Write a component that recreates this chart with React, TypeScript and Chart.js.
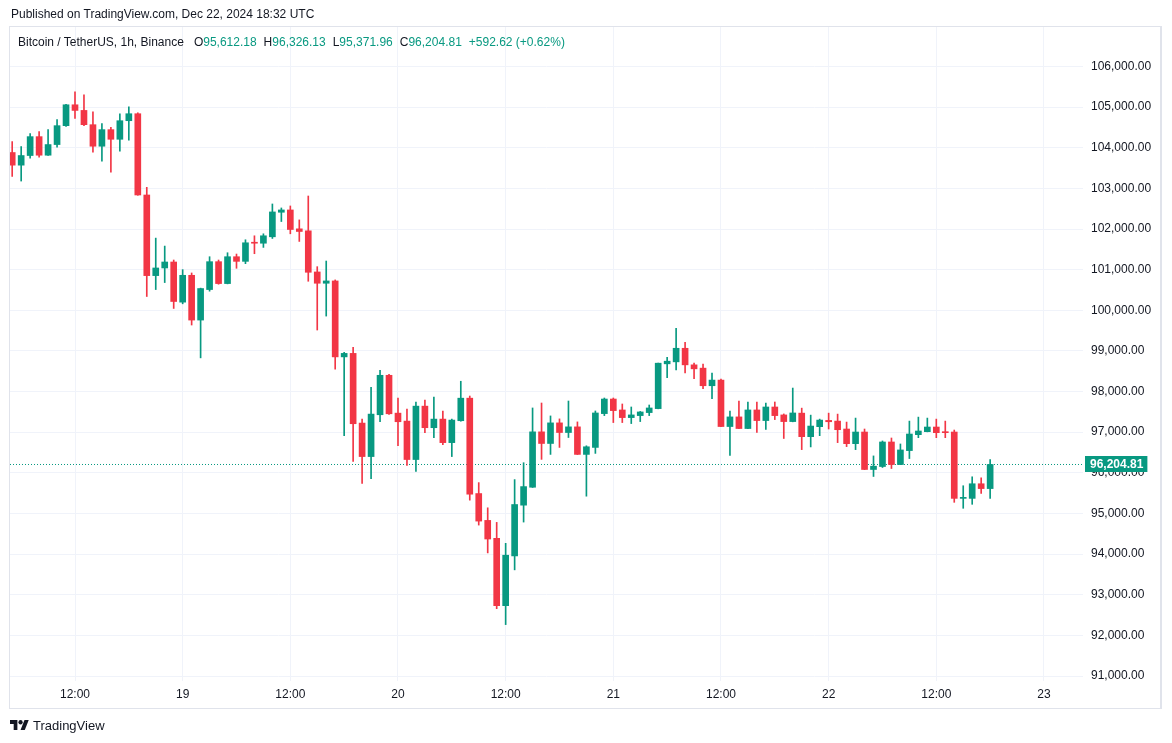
import React, { useEffect, useRef } from "react";
import { Chart, registerables } from "chart.js";

Chart.register(...registerables);

// Bitcoin / TetherUS, 1h, Binance — first candle Dec 18 05:00 UTC (hour 5 from Dec 18 00:00)
const START_HOUR = 5;

const opens = [
  103882, 103571, 103808, 104273, 103816, 104078, 104543, 105057, 104918, 104567,
  104037, 104445, 104208, 104665, 104837, 102837, 100853, 101041, 101188, 100200,
  100861, 99759, 100510, 101196, 100657, 101318, 101204, 101661, 101650, 101808,
  102412, 102469, 102004, 101955, 100943, 100665, 100722, 98853, 98939, 97224,
  96400, 97429, 98400, 97469, 97273, 96327, 97641, 97110, 97322, 96743,
  97282, 97837, 95490, 94829, 94388, 92731, 93955, 95204, 95645, 97008,
  96722, 97229, 96992, 97131, 96453, 96625, 97457, 97816, 97547, 97359,
  97408, 97482, 97580, 98682, 98731, 99065, 98657, 98576, 98143, 98282,
  97139, 97376, 97090, 97547, 97286, 97620, 97425, 97261, 97469, 96890,
  97135, 97290, 97273, 97078, 96718, 97004, 96082, 96155, 96759, 96204,
  96547, 96939, 97012, 97127, 97004, 97004, 95371, 95371, 95731, 95612.18,
];

const highs = [
  104151, 104029, 104347, 104396, 104445, 104690, 105070, 105375, 105302, 104886,
  104592, 104502, 104837, 105008, 104860, 103025, 101776, 101580, 101237, 101000,
  100918, 100545, 101318, 101237, 101416, 101384, 101735, 101833, 101882, 102616,
  102518, 102567, 102224, 102812, 101073, 101212, 100747, 98963, 99086, 97322,
  98106, 98522, 98425, 97837, 97567, 97739, 97788, 97861, 97518, 97322,
  98253, 97890, 95759, 95139, 94780, 94265, 95833, 96249, 97596, 97718,
  97400, 97327, 97767, 97253, 96665, 97522, 97841, 97841, 97694, 97620,
  97510, 97669, 98700, 98845, 99555, 99212, 98698, 98673, 98453, 98306,
  97522, 97767, 97743, 97743, 97718, 97743, 97449, 98086, 97592, 97420,
  97322, 97469, 97445, 97249, 97347, 97078, 96416, 96784, 96857, 96710,
  97273, 97371, 97347, 97322, 97273, 97053, 95682, 95902, 95878, 96326.13,
];

const lows = [
  103294, 103180, 103743, 103767, 103810, 104012, 104527, 104722, 104543, 103890,
  103669, 103400, 103914, 104184, 102830, 100339, 100510, 100682, 100045, 100159,
  99637, 98829, 100470, 100641, 100650, 101033, 101147, 101392, 101547, 101767,
  102184, 101882, 101694, 100714, 99514, 99857, 98551, 96914, 96278, 95739,
  95853, 97257, 97440, 96669, 96180, 96033, 96988, 96865, 96694, 96400,
  97270, 95327, 94714, 94029, 92657, 92265, 93612, 94788, 95640, 96331,
  96453, 96625, 96869, 96450, 95425, 96478, 97408, 97237, 97237, 97212,
  97261, 97408, 97575, 98339, 98535, 98461, 98314, 98069, 97824, 97135,
  96429, 97085, 97085, 96992, 97065, 97310, 96845, 97255, 96571, 96637,
  96914, 97078, 96743, 96645, 96571, 96078, 95910, 96131, 96106, 96200,
  96351, 96865, 97008, 96865, 96865, 95274, 95127, 95225, 95494, 95371.96,
];

const closes = [
  103571, 103808, 104273, 103816, 104078, 104543, 105057, 104918, 104567, 104037,
  104445, 104208, 104665, 104837, 102837, 100853, 101041, 101188, 100216, 100861,
  99759, 100535, 101196, 100657, 101318, 101204, 101661, 101650, 101833, 102420,
  102469, 101988, 101939, 100935, 100665, 100722, 98853, 98939, 97208, 96400,
  97445, 98400, 97453, 97257, 96327, 97641, 97110, 97322, 96743, 97298,
  97837, 95474, 94812, 94371, 92731, 93972, 95220, 95661, 97008, 96722,
  97229, 96992, 97131, 96453, 96641, 97473, 97816, 97531, 97359, 97425,
  97498, 97596, 98698, 98747, 99065, 98657, 98559, 98143, 98282, 97139,
  97376, 97090, 97547, 97286, 97620, 97408, 97261, 97473, 96890, 97151,
  97298, 97257, 97061, 96718, 97004, 96082, 96163, 96759, 96204, 96563,
  96955, 97029, 97127, 96988, 96988, 95371, 95396, 95731, 95612.18, 96204.81,
];

const xTickHours = [12, 24, 36, 48, 60, 72, 84, 96, 108, 120];
const xTickLabels = ["12:00", "19", "12:00", "20", "12:00", "21", "12:00", "22", "12:00", "23"];
const yTickValues = [
  91000, 92000, 93000, 94000, 95000, 96000, 97000, 98000,
  99000, 100000, 101000, 102000, 103000, 104000, 105000, 106000,
];

const legendLabels = ["O", "H", "L", "C"];
const changeText = "+592.62 (+0.62%)";

const UP = "#089981";
const DOWN = "#F23645";
const TEXT = "#131722";
const GRID = "#f0f3fa";
const FONT = "'Liberation Sans', Arial, sans-serif";

const X_MIN = 4.755;
const X_MAX = 124.35;
const Y_MIN = 90877;
const Y_MAX = 106971;

const fmt = (v: number) =>
  v.toLocaleString("en-US", { minimumFractionDigits: 2, maximumFractionDigits: 2 });

export default function App() {
  const ref = useRef<HTMLCanvasElement | null>(null);

  useEffect(() => {
    if (!ref.current) return;
    const hours = opens.map((_, i) => START_HOUR + i);
    const colors = opens.map((o, i) => (closes[i] >= o ? UP : DOWN));
    const last = closes[closes.length - 1];

    const priceLabel = {
      id: "priceLabel",
      afterDraw(chart: any) {
        const { ctx, chartArea, scales } = chart;
        const y = scales.y.getPixelForValue(last);
        const text = fmt(last);
        ctx.save();
        ctx.font = `bold 12px ${FONT}`;
        const w = ctx.measureText(text).width;
        const x0 = chartArea.right + 2;
        ctx.fillStyle = UP;
        ctx.fillRect(x0, Math.round(y) - 8, w + 9, 16);
        ctx.fillStyle = "#ffffff";
        ctx.textBaseline = "middle";
        ctx.textAlign = "left";
        ctx.fillText(text, x0 + 5, Math.round(y) + 0.5);
        ctx.restore();
      },
    };

    const chart = new Chart(ref.current, {
      type: "bar",
      data: {
        datasets: [
          {
            label: "body",
            data: hours.map((h, i) => ({ x: h, y: [opens[i], closes[i]] })) as any,
            backgroundColor: colors,
            barThickness: 6,
            grouped: false,
            minBarLength: 1,
            borderWidth: 0,
          } as any,
          {
            label: "wick",
            data: hours.map((h, i) => ({ x: h, y: [lows[i], highs[i]] })) as any,
            backgroundColor: colors,
            barThickness: 1,
            grouped: false,
            borderWidth: 0,
          } as any,
          {
            type: "line",
            label: "last",
            data: [
              { x: X_MIN, y: last },
              { x: X_MAX, y: last },
            ],
            borderColor: UP,
            borderWidth: 1,
            borderDash: [1, 2],
            pointRadius: 0,
            fill: false,
          } as any,
        ],
      },
      options: {
        animation: false,
        responsive: false,
        maintainAspectRatio: false,
        layout: { padding: { left: 10, top: 27, right: 11, bottom: 35 } },
        plugins: { legend: { display: false }, tooltip: { enabled: false } },
        scales: {
          x: {
            type: "linear",
            min: X_MIN,
            max: X_MAX,
            offset: false,
            grid: { color: GRID, drawTicks: false, offset: false },
            border: { display: false },
            afterBuildTicks: (s: any) => {
              s.ticks = xTickHours.map((v) => ({ value: v }));
            },
            afterFit: (s: any) => {
              s.height = 27;
            },
            ticks: {
              autoSkip: false,
              maxRotation: 0,
              padding: 6,
              color: TEXT,
              font: { size: 12, family: FONT },
              callback: (v: any) => {
                const i = xTickHours.indexOf(Number(v));
                return i >= 0 ? xTickLabels[i] : "";
              },
            },
          } as any,
          y: {
            type: "linear",
            position: "right",
            min: Y_MIN,
            max: Y_MAX,
            grid: { color: GRID, drawTicks: false },
            border: { display: false },
            afterBuildTicks: (s: any) => {
              s.ticks = yTickValues.map((v) => ({ value: v }));
            },
            afterFit: (s: any) => {
              s.width = 78;
            },
            ticks: {
              autoSkip: false,
              padding: 8,
              color: TEXT,
              font: { size: 12, family: FONT },
              callback: (v: any) => fmt(Number(v)),
            },
          } as any,
        },
      },
      plugins: [priceLabel],
    });
    return () => chart.destroy();
  }, []);

  const lastIdx = closes.length - 1;
  const legendValues = [opens[lastIdx], highs[lastIdx], lows[lastIdx], closes[lastIdx]];

  return (
    <div
      style={{
        position: "absolute",
        left: 0,
        top: 0,
        width: 1172,
        height: 743,
        background: "#ffffff",
        fontFamily: FONT,
        color: TEXT,
        overflow: "hidden",
      }}
    >
      <canvas
        ref={ref}
        width={1172}
        height={743}
        style={{ position: "absolute", left: 0, top: 0, display: "block" }}
      />
      <div
        style={{
          position: "absolute",
          left: 9,
          top: 26,
          width: 1153,
          height: 683,
          border: "1px solid #e0e3eb",
          borderRightWidth: 2,
          boxSizing: "border-box",
          pointerEvents: "none",
        }}
      />
      <div
        style={{
          position: "absolute",
          left: 11,
          top: 6,
          fontSize: 12,
          lineHeight: "16px",
          whiteSpace: "nowrap",
        }}
      >
        Published on TradingView.com, Dec 22, 2024 18:32 UTC
      </div>
      <div
        style={{
          position: "absolute",
          left: 18,
          top: 34,
          fontSize: 12,
          lineHeight: "16px",
          whiteSpace: "nowrap",
        }}
      >
        <span>Bitcoin / TetherUS, 1h, Binance</span>
        {legendLabels.map((l, i) => (
          <span key={l} style={{ marginLeft: i === 0 ? 10 : 7 }}>
            {l}
            <span style={{ color: UP }}>{fmt(legendValues[i])}</span>
          </span>
        ))}
        <span style={{ color: UP, marginLeft: 7 }}>{changeText}</span>
      </div>
      <div
        style={{
          position: "absolute",
          left: 10,
          top: 717,
          height: 16,
          display: "flex",
          alignItems: "center",
          fontSize: 13,
          whiteSpace: "nowrap",
        }}
      >
        <svg width="19" height="10" viewBox="0 4 36 18" preserveAspectRatio="none">
          <path d="M14 22H7V11H0V4h14v18z" fill={TEXT} />
          <circle cx="20" cy="8" r="4" fill={TEXT} />
          <path d="M28 22h-8l7.5-18h8L28 22z" fill={TEXT} />
        </svg>
        <span style={{ marginLeft: 4 }}>TradingView</span>
      </div>
    </div>
  );
}
